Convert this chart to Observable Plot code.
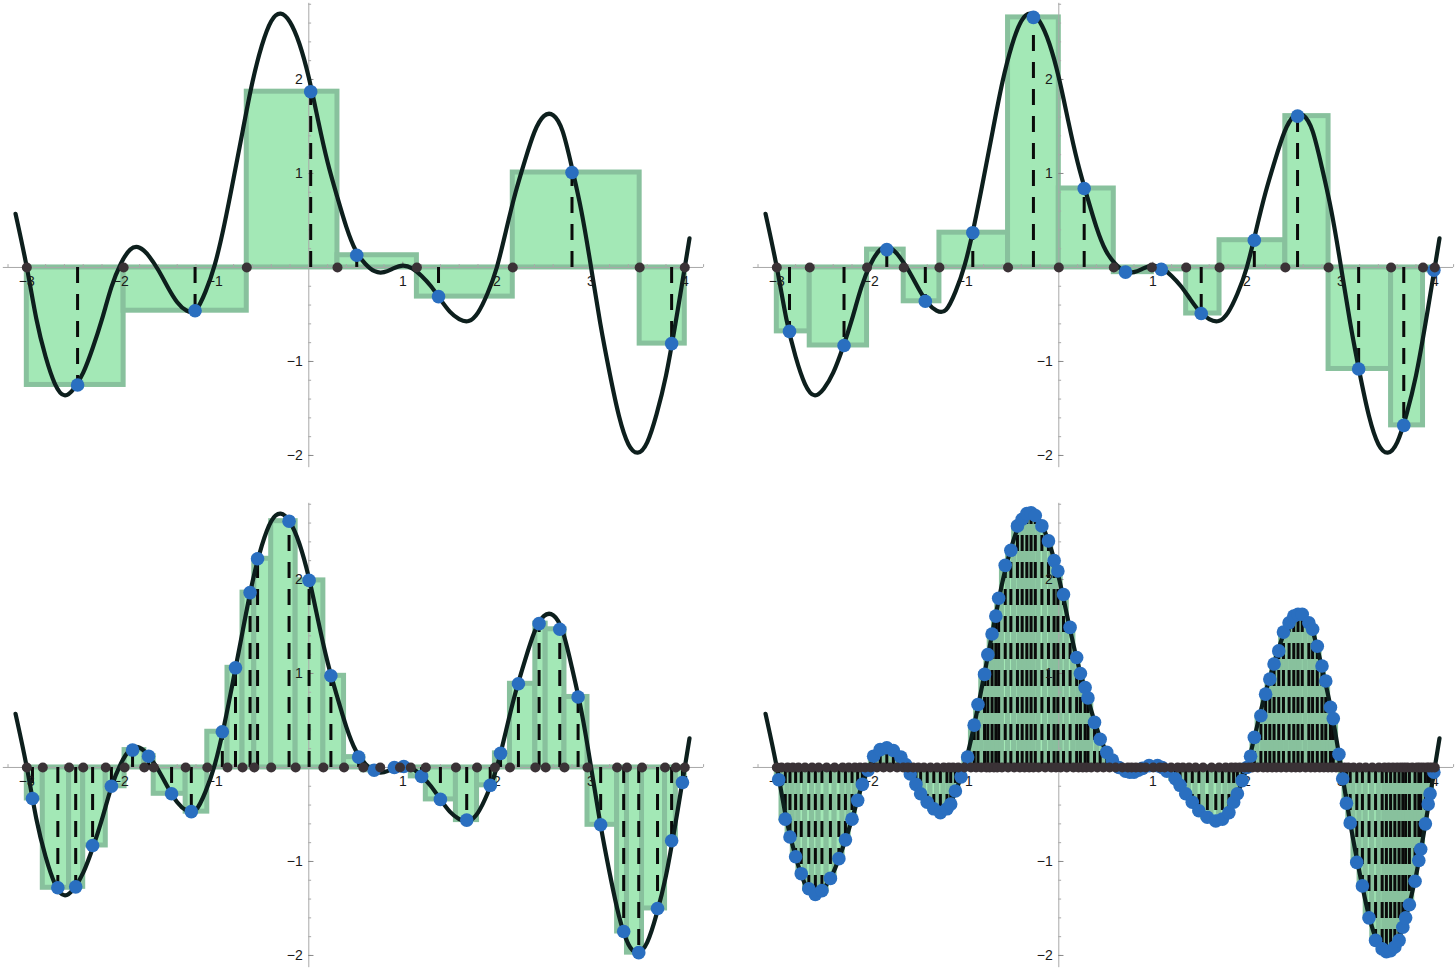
<!DOCTYPE html>
<html>
<head>
<meta charset="utf-8">
<script src="https://cdn.jsdelivr.net/npm/d3@7"></script>
<script src="https://cdn.jsdelivr.net/npm/@observablehq/plot@0.6"></script>
<style>
  html, body { margin: 0; padding: 0; background: #ffffff; }
  #root { position: relative; width: 1456px; height: 968px; overflow: hidden; background: #fff; }
  .panel { position: absolute; }
  .panel svg { overflow: visible; }
</style>
</head>
<body>
<div id="root"></div>
<script>
// ---------- the function ----------
const curveX = [-3.12,-3.1,-3.0,-2.9,-2.8,-2.7,-2.6,-2.5,-2.4,-2.3,-2.2,-2.1,-2.0,-1.9,-1.8,-1.7,-1.6,-1.5,-1.4,-1.3,-1.2,-1.1,-1.0,-0.9,-0.8,-0.7,-0.6,-0.5,-0.4,-0.3,-0.2,-0.1,0.0,0.1,0.2,0.3,0.4,0.5,0.6,0.7,0.8,0.9,1.0,1.1,1.2,1.3,1.4,1.5,1.6,1.7,1.8,1.9,2.0,2.1,2.2,2.3,2.4,2.5,2.6,2.7,2.8,2.9,3.0,3.1,3.2,3.3,3.4,3.5,3.6,3.7,3.8,3.9,4.0,4.05];
const curveY = [0.57,0.48,0.0,-0.54,-0.95,-1.24,-1.36,-1.29,-1.12,-0.86,-0.55,-0.21,0.04,0.19,0.21,0.12,-0.03,-0.21,-0.37,-0.46,-0.45,-0.26,0.03,0.45,0.95,1.47,1.97,2.36,2.62,2.70,2.61,2.38,2.02,1.56,1.12,0.76,0.43,0.18,0.04,-0.04,-0.05,-0.01,0.02,-0.01,-0.09,-0.20,-0.34,-0.47,-0.55,-0.57,-0.48,-0.28,0.0,0.40,0.80,1.14,1.44,1.61,1.62,1.45,1.06,0.60,0.02,-0.59,-1.12,-1.58,-1.88,-1.97,-1.86,-1.56,-1.15,-0.60,0.0,0.31];

// ---------- panel 1 (top left) ----------
const part1 = [-3, -1.97, -0.66, 0.305, 1.15, 2.17, 3.52, 4.0];
const tag1  = [-2.46, -1.21, 0.02, 0.51, 1.38, 2.80, 3.86];
const val1  = [-1.25, -0.46, 1.87, 0.13, -0.31, 1.01, -0.81];

// ---------- panel 2 (top right) ----------
const part2 = [-3, -2.65, -2.04, -1.65, -1.27, -0.54, 0.0, 0.585, 0.99, 1.355, 1.71, 2.41, 2.87, 3.535, 3.875, 4.0];
const tag2  = [-2.865, -2.285, -1.83, -1.42, -0.915, -0.27, 0.27, 0.71, 1.09, 1.515, 2.08, 2.54, 3.19, 3.67, 3.99];
const val2  = [-0.68, -0.83, 0.19, -0.36, 0.37, 2.66, 0.84, -0.05, -0.02, -0.49, 0.29, 1.61, -1.08, -1.68, -0.03];

// ---------- panel 3 (bottom left) ----------
const part3 = [-3, -2.83, -2.55, -2.40, -2.16, -1.96, -1.75, -1.65, -1.31, -1.08, -0.865, -0.705, -0.58, -0.40, -0.14, 0.155, 0.375, 0.58, 0.76, 0.97, 1.085, 1.245, 1.565, 1.79, 1.98, 2.14, 2.41, 2.52, 2.72, 2.965, 3.28, 3.385, 3.545, 3.79, 3.905, 4.0];
const tag3  = [-2.94, -2.67, -2.48, -2.30, -2.10, -1.875, -1.705, -1.46, -1.25, -0.92, -0.78, -0.625, -0.545, -0.21, 0.003, 0.235, 0.53, 0.695, 0.91, 1.01, 1.20, 1.40, 1.68, 1.93, 2.04, 2.23, 2.45, 2.67, 2.865, 3.105, 3.35, 3.51, 3.71, 3.86, 3.975];
const val3  = [-0.33, -1.28, -1.27, -0.83, -0.20, 0.185, 0.12, -0.28, -0.47, 0.38, 1.06, 1.86, 2.22, 2.62, 1.99, 0.975, 0.11, -0.03, 0.0, 0.01, -0.095, -0.34, -0.56, -0.19, 0.15, 0.89, 1.53, 1.47, 0.75, -0.61, -1.745, -1.97, -1.50, -0.78, -0.16];

// ---------- panel 4 (bottom right) ----------
const part4 = [-3.0,-2.95,-2.885,-2.83,-2.77,-2.70,-2.625,-2.555,-2.47,-2.385,-2.30,-2.235,-2.17,-2.115,-2.06,-2.0,-1.935,-1.865,-1.795,-1.72,-1.655,-1.605,-1.55,-1.495,-1.435,-1.365,-1.295,-1.225,-1.17,-1.125,-1.07,-1.005,-0.935,-0.88,-0.825,-0.77,-0.735,-0.69,-0.655,-0.605,-0.54,-0.475,-0.415,-0.365,-0.315,-0.27,-0.215,-0.145,-0.08,-0.03,0.02,0.085,0.155,0.21,0.255,0.295,0.345,0.41,0.475,0.54,0.605,0.675,0.735,0.775,0.82,0.87,0.925,1.005,1.075,1.125,1.195,1.265,1.32,1.385,1.455,1.535,1.625,1.705,1.775,1.835,1.88,1.925,1.975,2.02,2.06,2.115,2.175,2.22,2.27,2.315,2.365,2.42,2.475,2.52,2.565,2.625,2.68,2.725,2.775,2.82,2.865,2.905,2.95,3.0,3.04,3.08,3.135,3.20,3.265,3.335,3.405,3.465,3.51,3.555,3.60,3.64,3.675,3.71,3.76,3.81,3.84,3.875,3.915,3.94,3.97,4.0];
const tag4 = [-2.98,-2.91,-2.86,-2.80,-2.74,-2.66,-2.59,-2.52,-2.43,-2.34,-2.27,-2.20,-2.14,-2.09,-2.03,-1.97,-1.90,-1.83,-1.76,-1.68,-1.63,-1.58,-1.52,-1.47,-1.40,-1.33,-1.26,-1.19,-1.15,-1.10,-1.04,-0.97,-0.90,-0.86,-0.79,-0.755,-0.71,-0.67,-0.64,-0.57,-0.51,-0.44,-0.39,-0.34,-0.295,-0.25,-0.18,-0.11,-0.05,-0.01,0.05,0.12,0.19,0.23,0.28,0.31,0.38,0.44,0.51,0.57,0.64,0.71,0.755,0.80,0.845,0.89,0.96,1.05,1.10,1.15,1.24,1.29,1.35,1.42,1.49,1.58,1.67,1.74,1.81,1.86,1.90,1.95,2.00,2.04,2.08,2.15,2.20,2.245,2.29,2.34,2.39,2.45,2.50,2.545,2.59,2.66,2.70,2.75,2.80,2.84,2.89,2.92,2.98,3.02,3.06,3.10,3.17,3.23,3.30,3.37,3.44,3.485,3.53,3.575,3.62,3.66,3.69,3.73,3.79,3.83,3.85,3.90,3.93,3.95,3.99];
const val4 = [-0.13,-0.55,-0.74,-0.95,-1.13,-1.29,-1.35,-1.31,-1.18,-0.97,-0.77,-0.55,-0.35,-0.18,-0.03,0.12,0.19,0.21,0.18,0.11,0.03,-0.07,-0.18,-0.28,-0.37,-0.44,-0.48,-0.44,-0.39,-0.25,-0.10,0.11,0.45,0.67,0.99,1.20,1.42,1.61,1.80,2.15,2.31,2.57,2.64,2.70,2.71,2.68,2.57,2.41,2.20,2.09,1.84,1.49,1.17,1.00,0.85,0.74,0.48,0.30,0.16,0.08,0.0,-0.04,-0.05,-0.05,-0.03,-0.01,0.02,0.02,0.0,-0.04,-0.12,-0.19,-0.28,-0.37,-0.46,-0.53,-0.57,-0.55,-0.48,-0.37,-0.28,-0.14,0.0,0.12,0.32,0.55,0.78,0.94,1.10,1.24,1.44,1.54,1.61,1.63,1.63,1.54,1.47,1.29,1.08,0.92,0.64,0.52,0.14,-0.12,-0.38,-0.59,-1.01,-1.26,-1.60,-1.84,-1.93,-1.96,-1.95,-1.91,-1.84,-1.70,-1.60,-1.46,-1.21,-0.99,-0.87,-0.60,-0.39,-0.28,-0.05];

// ---------- axes ----------
const xTickValues = [-3, -2, -1, 1, 2, 3, 4];
const xTickLabels = ["−3", "−2", "−1", "1", "2", "3", "4"];
const yTickValues = [-2, -1, 1, 2];
const yTickLabels = ["−2", "−1", "1", "2"];

// ---------- styling ----------
const FILL = "#a3e8b6";
const EDGE = "#88c19d";
const CURVE = "#0d1f1d";
const BLUE = "#2a6fc0";
const DARK = "#3a3236";
const AXIS = "#a8a8a8";
const FONT = "'Liberation Sans', Arial, sans-serif";

const curveData = curveX.map((x, i) => ({x, y: curveY[i]}));
const xMinor = d3.range(-16, 22).map(i => i / 5).filter(v => Math.abs(v) > 1e-9);
const yMinor = d3.range(-10, 15).map(i => i / 5).filter(v => Math.abs(v) > 1e-9);

function panel(part, tags, vals, left, top) {
  const rects = tags.map((t, i) => ({x1: part[i], x2: part[i + 1], t, h: vals[i]}));
  const svg = Plot.plot({
    width: 706, height: 470,
    marginTop: 0, marginRight: 0, marginBottom: 0, marginLeft: 0,
    x: {domain: [-3.28, 4.231], axis: null},
    y: {domain: [-2.16, 2.84], axis: null},
    style: {background: "transparent", fontFamily: FONT, overflow: "visible"},
    marks: [
      // rectangles
      Plot.rect(rects, {x1: "x1", x2: "x2", y1: 0, y2: "h", fill: FILL, stroke: EDGE, strokeWidth: 5, inset: 0}),
      // axes lines
      Plot.ruleY([0], {x1: -3.25, x2: 4.2, stroke: AXIS, strokeWidth: 1}),
      Plot.ruleX([0], {y1: -2.13, y2: 2.81, stroke: AXIS, strokeWidth: 1}),
      // minor ticks
      Plot.ruleX(xMinor, {x: d => d, y1: 0, y2: 0.03, stroke: AXIS, strokeWidth: 1}),
      Plot.ruleY(yMinor, {y: d => d, x1: 0, x2: 0.03, stroke: AXIS, strokeWidth: 1}),
      // major ticks
      Plot.ruleX(xTickValues, {x: d => d, y1: 0, y2: 0.055, stroke: "#888", strokeWidth: 1}),
      Plot.ruleY(yTickValues, {y: d => d, x1: 0, x2: 0.055, stroke: "#888", strokeWidth: 1}),
      // dashed verticals at the sample points
      Plot.ruleX(rects, {x: "t", y1: 0, y2: "h", stroke: "#0a0a0a", strokeWidth: 3, strokeDasharray: "16,11"}),
      // the function
      Plot.line(curveData, {x: "x", y: "y", curve: "natural", stroke: CURVE, strokeWidth: 4.2}),
      // tick labels
      Plot.text(xTickValues, {x: d => d, y: 0, text: (d, i) => xTickLabels[i], dy: 14, fontSize: 14, fill: "#1a1a1a", textAnchor: "middle"}),
      Plot.text(yTickValues, {x: 0, y: d => d, text: (d, i) => yTickLabels[i], dx: -6, fontSize: 14, fill: "#1a1a1a", textAnchor: "end"}),
      // sample points
      Plot.dot(rects, {x: "t", y: "h", r: 6.8, fill: BLUE, stroke: "none"}),
      // partition points
      Plot.dot(part, {x: d => d, y: 0, r: 5, fill: DARK, stroke: "none"})
    ]
  });
  const div = document.createElement("div");
  div.className = "panel";
  div.style.left = left + "px";
  div.style.top = top + "px";
  div.appendChild(svg);
  document.getElementById("root").appendChild(div);
}

panel(part1, tag1, val1, 0, 0);
panel(part2, tag2, val2, 750, 0);
panel(part3, tag3, val3, 0, 500);
panel(part4, tag4, val4, 750, 500);
</script>
</body>
</html>
